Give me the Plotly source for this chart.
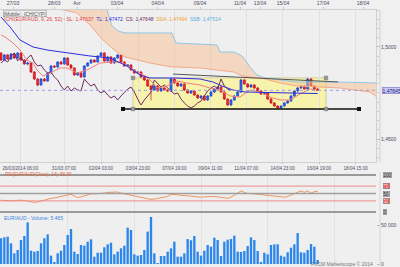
import plotly.graph_objects as go

# ---------------- data ----------------
bar_idx = list(range(96))
open_ = [1.49674, 1.49293, 1.49565, 1.49348, 1.49620, 1.49402, 1.49674, 1.49293, 1.49076, 1.49130,
         1.48641, 1.48261, 1.47935, 1.48261, 1.48152, 1.48587, 1.48967, 1.48913, 1.49185, 1.49076,
         1.49402, 1.49022, 1.48859, 1.48478, 1.48587, 1.48370, 1.48967, 1.49130, 1.49293, 1.49185,
         1.49511, 1.49674, 1.49239, 1.49457, 1.49130, 1.49402, 1.49565, 1.49185, 1.48967, 1.49022,
         1.48750, 1.48587, 1.48641, 1.48370, 1.48207, 1.47880, 1.47663, 1.47880, 1.47609, 1.47772,
         1.47663, 1.47609, 1.48261, 1.48043, 1.47880, 1.47989, 1.47663, 1.47500, 1.47609, 1.47391,
         1.47228, 1.47337, 1.47120, 1.47337, 1.47554, 1.47717, 1.47826, 1.47554, 1.47174, 1.46848,
         1.47120, 1.47337, 1.47554, 1.48207, 1.47989, 1.47826, 1.47935, 1.47772, 1.47609, 1.47446,
         1.47500, 1.47174, 1.46957, 1.46793, 1.46685, 1.46793, 1.46957, 1.47065, 1.47337, 1.47609,
         1.47772, 1.47880, 1.47717, 1.48261, 1.47880, 1.47717]
high = [1.4972, 1.4962, 1.4962, 1.4967, 1.4967, 1.4973, 1.4972, 1.4934, 1.4920, 1.4918,
        1.4869, 1.4831, 1.4831, 1.4831, 1.4864, 1.4902, 1.4902, 1.4924, 1.4924, 1.4945,
        1.4945, 1.4907, 1.4891, 1.4864, 1.4864, 1.4902, 1.4918, 1.4934, 1.4934, 1.4956,
        1.4972, 1.4972, 1.4951, 1.4951, 1.4945, 1.4962, 1.4962, 1.4924, 1.4907, 1.4907,
        1.4880, 1.4869, 1.4869, 1.4842, 1.4826, 1.4793, 1.4793, 1.4793, 1.4782, 1.4782,
        1.4771, 1.4831, 1.4831, 1.4809, 1.4804, 1.4804, 1.4771, 1.4766, 1.4766, 1.4744,
        1.4739, 1.4739, 1.4739, 1.4760, 1.4777, 1.4788, 1.4788, 1.4760, 1.4722, 1.4717,
        1.4739, 1.4760, 1.4826, 1.4826, 1.4804, 1.4799, 1.4799, 1.4782, 1.4766, 1.4755,
        1.4755, 1.4722, 1.4701, 1.4684, 1.4684, 1.4701, 1.4712, 1.4739, 1.4766, 1.4782,
        1.4793, 1.4793, 1.4831, 1.4831, 1.4793, 1.4777]
low = [1.4924, 1.4924, 1.4930, 1.4930, 1.4935, 1.4935, 1.4924, 1.4903, 1.4900, 1.4859,
       1.4821, 1.4785, 1.4789, 1.4810, 1.4810, 1.4854, 1.4886, 1.4886, 1.4903, 1.4903,
       1.4897, 1.4881, 1.4843, 1.4843, 1.4832, 1.4832, 1.4892, 1.4908, 1.4914, 1.4914,
       1.4946, 1.4919, 1.4919, 1.4908, 1.4908, 1.4935, 1.4914, 1.4892, 1.4892, 1.4870,
       1.4854, 1.4854, 1.4832, 1.4816, 1.4783, 1.4710, 1.4761, 1.4756, 1.4756, 1.4761,
       1.4756, 1.4756, 1.4799, 1.4783, 1.4783, 1.4761, 1.4745, 1.4745, 1.4734, 1.4718,
       1.4718, 1.4707, 1.4707, 1.4729, 1.4750, 1.4767, 1.4750, 1.4712, 1.4680, 1.4680,
       1.4707, 1.4729, 1.4750, 1.4794, 1.4778, 1.4778, 1.4772, 1.4756, 1.4740, 1.4740,
       1.4712, 1.4691, 1.4674, 1.4664, 1.4664, 1.4674, 1.4691, 1.4701, 1.4729, 1.4756,
       1.4772, 1.4767, 1.4767, 1.4783, 1.4767, 1.4760]
close = [1.49293, 1.49565, 1.49348, 1.49620, 1.49402, 1.49674, 1.49293, 1.49076, 1.49130, 1.48641,
         1.48261, 1.47935, 1.48261, 1.48152, 1.48587, 1.48967, 1.48913, 1.49185, 1.49076, 1.49402,
         1.49022, 1.48859, 1.48478, 1.48587, 1.48370, 1.48967, 1.49130, 1.49293, 1.49185, 1.49511,
         1.49674, 1.49239, 1.49457, 1.49130, 1.49402, 1.49565, 1.49185, 1.48967, 1.49022, 1.48750,
         1.48587, 1.48641, 1.48370, 1.48207, 1.47880, 1.47663, 1.47880, 1.47609, 1.47772, 1.47663,
         1.47609, 1.48261, 1.48043, 1.47880, 1.47989, 1.47663, 1.47500, 1.47609, 1.47391, 1.47228,
         1.47337, 1.47120, 1.47337, 1.47554, 1.47717, 1.47826, 1.47554, 1.47174, 1.46848, 1.47120,
         1.47337, 1.47554, 1.48207, 1.47989, 1.47826, 1.47935, 1.47772, 1.47609, 1.47446, 1.47500,
         1.47174, 1.46957, 1.46793, 1.46685, 1.46793, 1.46957, 1.47065, 1.47337, 1.47609, 1.47772,
         1.47880, 1.47717, 1.48261, 1.47880, 1.47717, 1.47645]

volume = [33000, 34200, 35000, 26500, 13700, 18000, 30800, 35900, 53400, 17000,
          15800, 16700, 26500, 33000, 38000, 10700, 1700, 13700, 17000, 24400,
          37200, 44900, 15800, 12800, 24400, 23500, 28600, 31600, 9400, 14500,
          14500, 21400, 25200, 27300, 12400, 15800, 20100, 23500, 46600, 43600,
          12400, 10700, 11500, 18000, 41500, 60300, 13700, 400, 10300, 10300,
          15800, 20100, 28600, 9400, 9400, 13700, 32000, 30400, 35900, 15800,
          10700, 17000, 24400, 22200, 33700, 30800, 10300, 28600, 31200, 32000,
          36300, 15800, 15400, 16700, 23000, 34200, 30800, 16700, 1700, 14500,
          12400, 24400, 25200, 25200, 10700, 9400, 15000, 20900, 25200, 39700,
          15000, 14500, 18000, 25600, 22200, 5100]

rsi = [32, 31, 30, 30, 31, 32, 32, 31, 29, 28,
       26, 27, 30, 32, 35, 37, 38, 40, 41, 43,
       45, 48, 43, 39, 41, 44, 47, 49, 49, 49,
       50, 51, 53, 54, 55, 54, 51, 49, 47, 46,
       44, 42, 41, 39, 36, 34, 35, 37, 38, 39,
       42, 48, 47, 46, 45, 43, 42, 41, 40, 40,
       40, 41, 42, 43, 42, 41, 40, 38, 37, 40,
       46, 50, 57, 53, 50, 50, 49, 49, 48, 47,
       46, 44, 42, 41, 40, 40, 42, 46, 50, 54,
       57, 53, 57, 51, 55, 56]

# Ichimoku lines (bar index, price)
sl_x = [0, 1.2, 3.6, 5.7, 7.8, 9.6, 10.8, 12.6, 14.7, 17.7, 19.8, 22.8, 25.8, 27.6, 29.7,
        33.6, 36.6, 38.7, 40.8, 43.8, 45.6, 46.8, 49.8, 52.8, 55.8, 59.7, 62.7, 65.7,
        68.7, 71.7, 74.7, 77.7, 80.7, 83.7, 86.7, 89.7, 92.7, 95]
sl_y = [1.50652, 1.50543, 1.50217, 1.49837, 1.49293, 1.49130, 1.48750, 1.48424, 1.48587,
        1.48859, 1.48859, 1.48587, 1.48750, 1.48913, 1.49130, 1.49185, 1.49130, 1.48859,
        1.48641, 1.48370, 1.48043, 1.47772, 1.47880, 1.48152, 1.48043, 1.47935, 1.47772,
        1.47663, 1.47337, 1.47283, 1.47663, 1.47554, 1.47283, 1.47120, 1.47120, 1.47446,
        1.47717, 1.47637]
tl_x = [0, 2.7, 5.7, 9.6, 13.8, 19.8, 26.7, 32.7, 37.8, 41.7, 44.7, 52.2, 59.7, 63.6,
        66.3, 69.6, 73.2, 86.7, 95]
tl_y = [1.51630, 1.51087, 1.50380, 1.50000, 1.49837, 1.49674, 1.49511, 1.49402, 1.48967,
        1.48478, 1.48315, 1.48315, 1.48261, 1.48098, 1.47880, 1.47663, 1.47554, 1.47500,
        1.47472]
cloud_x = [-0.3, 14.4, 18.9, 22.8, 26.7, 30.6, 33.3, 35.1, 37.2, 44.7, 51.3, 52.5, 59.7,
           64.8, 65.7, 69.9, 71.7, 72.6, 74.7, 76.8, 79.2, 83.7, 88.8, 101.7, 110.7, 112.8]
cloud_upper = [1.5350, 1.5300, 1.5300, 1.5300, 1.5300, 1.5270, 1.51141, 1.50870, 1.50761,
               1.50761, 1.50761, 1.50217, 1.50163, 1.50109, 1.49728, 1.49728, 1.49565,
               1.49457, 1.48913, 1.48478, 1.48315, 1.48207, 1.48098, 1.48098, 1.48043, 1.48043]
cloud_lower = [1.5280, 1.52120, 1.52011, 1.51848, 1.51196, 1.50380, 1.49946, 1.49674,
               1.49457, 1.49130, 1.48913, 1.48913, 1.48859, 1.48750, 1.48750, 1.48641,
               1.48478, 1.48424, 1.48370, 1.48315, 1.48261, 1.48043, 1.47880, 1.47772,
               1.47554, 1.47283]
chikou_shift = 26

bottom_tick_idx = [5.8, 18.9, 30, 41.1, 52, 62.8, 73.6, 84.5, 95.4, 106.4]
bottom_tick_text = ["26/03/2014 06:00", "31/03 07:00", "02/04 03:00", "03/04 23:00",
                    "07/04 19:00", "09/04 11:00", "11/04 07:00", "14/04 23:00",
                    "16/04 19:00", "18/04 15:00"]
top_tick_idx = [3.6, 16, 22.8, 34.8, 47, 59.7, 71.7, 77.7, 84.6, 96.6, 108.6]
top_tick_text = ["27/03", "28/03", "Avr", "03/04", "04/04", "09/04", "11/04", "13/04",
                 "15/04", "17/04", "18/04"]
event_idx = [3.6, 15.6, 16.5, 22.8, 34.8, 46.8, 47.4, 59.7, 71.7, 77.7, 84.6, 96.6, 108.6]

rect_idx = [39.6, 97.5]
rect_price = [1.4663, 1.4832]
support_idx = [36.6, 107.4]
support_price = [1.4663, 1.4663]
trend_idx = [51.6, 101.1]
trend_price = [1.4853, 1.4810]
last_price = 1.47645
rsi_levels = [100, 70, 50, 30, 0]
price_ticks = [1.45, 1.50]
volume_ticks = [0, 50000]

# ---------------- layout geometry ----------------
H = 267.0
def py(px):
    return 1 - px / H

main_range = [1.4375, 1.5201]
x_range = [-0.3, 112.5]
XD = [0, 0.94]
FONT = "Liberation Sans, Arial, sans-serif"

fig = go.Figure()

# Ichimoku cloud
fig.add_trace(go.Scatter(x=cloud_x, y=cloud_upper, mode="lines",
                         line=dict(color="#8fc8e6", width=1), hoverinfo="skip"))
fig.add_trace(go.Scatter(x=cloud_x, y=cloud_lower, mode="lines", fill="tonexty",
                         fillcolor="rgba(248,192,145,0.5)",
                         line=dict(color="#f4a88a", width=1), hoverinfo="skip"))
# Chikou
fig.add_trace(go.Scatter(x=[i - chikou_shift for i in bar_idx[chikou_shift:]],
                         y=close[chikou_shift:], mode="lines",
                         line=dict(color="#6e2a62", width=1)))
# SL / TL
fig.add_trace(go.Scatter(x=sl_x, y=sl_y, mode="lines", line=dict(color="#f2807a", width=1)))
fig.add_trace(go.Scatter(x=tl_x, y=tl_y, mode="lines", line=dict(color="#2a2ee0", width=1)))
# candles
fig.add_trace(go.Candlestick(x=bar_idx, open=open_, high=high, low=low, close=close,
                             increasing=dict(line=dict(color="#1e46cc", width=0.7), fillcolor="#2f64ee"),
                             decreasing=dict(line=dict(color="#c8141c", width=0.7), fillcolor="#ee2a30"),
                             whiskerwidth=0))
# trend line and support line
fig.add_trace(go.Scatter(x=trend_idx, y=trend_price, mode="lines",
                         line=dict(color="#555555", width=1)))
fig.add_trace(go.Scatter(x=support_idx, y=support_price, mode="lines+markers",
                         line=dict(color="#111111", width=1.3),
                         marker=dict(symbol="square", size=4, color="#111111")))
# rectangle handles
fig.add_trace(go.Scatter(x=[rect_idx[0], rect_idx[1], rect_idx[0], rect_idx[1]],
                         y=[rect_price[0], rect_price[0], rect_price[1], rect_price[1]],
                         mode="markers",
                         marker=dict(symbol="square", size=3.5, color="#9a9a9a",
                                     line=dict(color="#666", width=0.5))))
# event markers on the top ruler
fig.add_trace(go.Scatter(x=event_idx, y=[main_range[1] + 0.0014] * len(event_idx),
                         mode="markers", xaxis="x2", yaxis="y", cliponaxis=False,
                         marker=dict(symbol="triangle-down", size=5, color="#f5a31a")))
# RSI
fig.add_trace(go.Scatter(x=bar_idx, y=rsi, mode="lines", xaxis="x3", yaxis="y3",
                         line=dict(color="#f0955f", width=1)))
# Volume
fig.add_trace(go.Bar(x=bar_idx, y=volume, xaxis="x4", yaxis="y4",
                     marker=dict(color="#2a86ec", line=dict(width=0)), width=0.7))

shapes = [
    dict(type="rect", xref="x", yref="y", x0=rect_idx[0], x1=rect_idx[1],
         y0=rect_price[0], y1=rect_price[1], fillcolor="#f8f3aa",
         line=dict(color="#c9c49a", width=0.8), layer="below"),
    dict(type="line", xref="paper", yref="y", x0=0, x1=XD[1], y0=last_price, y1=last_price,
         line=dict(color="#9c9ce8", width=1, dash="dot")),
    dict(type="line", xref="paper", yref="paper", x0=0.95, x1=0.95, y0=py(162), y1=py(10),
         line=dict(color="#cfcfcf", width=1)),
    dict(type="line", xref="paper", yref="paper", x0=0.95, x1=0.95, y0=py(266), y1=py(172),
         line=dict(color="#d6d6d6", width=1)),
]
rsi_colors = {100: ("#9a9a9a", 2), 70: ("#f08a8a", 1), 50: ("#a0a0a0", 1.5),
              30: ("#f08a8a", 1), 0: ("#9a9a9a", 2)}
for lv in rsi_levels:
    c, w = rsi_colors[lv]
    shapes.append(dict(type="line", xref="paper", yref="y3", x0=0, x1=XD[1], y0=lv, y1=lv,
                       line=dict(color=c, width=w)))

ann = []
def note(text, x, y, color, size=5, xanchor="left", yref="paper", bg=None, border=None):
    d = dict(text=text, x=x, y=y, xref="paper", yref=yref, xanchor=xanchor,
             yanchor="middle", showarrow=False, font=dict(size=size, color=color, family=FONT))
    if bg:
        d["bgcolor"] = bg
    if border:
        d["bordercolor"] = border
        d["borderwidth"] = 0.6
        d["borderpad"] = 0
    ann.append(d)

note("[Mobile : ICHICYP]", 0.008, py(13), "#555555", border="#aaaaaa")
note('<span style="color:#e04040">ICHI(EUR/AUD, 9, 26, 52) - SL: 1,47637</span>  '
     '<span style="color:#2a2ee0">TL: 1,47472</span>  '
     '<span style="color:#6e2a62">CS: 1,47648</span>  '
     '<span style="color:#f0a030">SSA: 1,47494</span>  '
     '<span style="color:#5aaee0">SSB: 1,47514</span>', 0.005, py(18.5), "#e04040")
note("RSI(EUR/AUD(Close), 14): 56,00", 0.008, py(174.5), "#e0663a", size=4.5)
note("EUR/AUD - Volume: 5 465", 0.005, py(217.5), "#3a86e0")
note("FXCM Marketscope © 2014", 0.938, py(264), "#777777", xanchor="right")
note("1,47645", 0.955, last_price, "#1a1a80", yref="y", bg="#c9c9f2", border="#7070c0")
lvl_bg = {100: "#bdbdbd", 70: "#e23b3b", 50: "#bdbdbd", 30: "#e23b3b", 0: "#bdbdbd"}
lvl_fg = {100: "#222222", 70: "#ffffff", 50: "#222222", 30: "#ffffff", 0: "#222222"}
for lv in rsi_levels:
    note(str(lv), 0.957, lv, lvl_fg[lv], size=4.5, yref="y3", bg=lvl_bg[lv], border="#888888")

tickfont = dict(size=5, color="#4b4b66", family=FONT)
fig.update_layout(
    width=400, height=267, margin=dict(l=0, r=0, t=0, b=0),
    paper_bgcolor="#f0f0f0", plot_bgcolor="#efefef",
    showlegend=False, separators=", ", bargap=0.3, boxgap=0.15,
    shapes=shapes, annotations=ann, hovermode=False,
    xaxis=dict(domain=XD, range=x_range, anchor="y", tickvals=bottom_tick_idx,
               ticktext=bottom_tick_text, tickfont=dict(size=4.6, color="#4b4b66", family=FONT),
               showgrid=True, gridcolor="#e1e1e1", zeroline=False, ticks="outside", ticklen=1,
               tickcolor="#bbbbbb", showline=True, linecolor="#d0d0d0", mirror=True,
               rangeslider=dict(visible=False), automargin=False,
               ticklabeloverflow="allow"),
    xaxis2=dict(overlaying="x", side="top", matches="x", anchor="y", tickvals=top_tick_idx,
                ticktext=top_tick_text, tickfont=tickfont, showgrid=False, zeroline=False,
                ticks="outside", ticklen=2, tickcolor="#cccccc", automargin=False),
    xaxis3=dict(domain=XD, matches="x", anchor="y3", showticklabels=False, showgrid=True,
                gridcolor="#e1e1e1", zeroline=False, automargin=False),
    xaxis4=dict(domain=XD, matches="x", anchor="y4", showticklabels=False, showgrid=True,
                gridcolor="#e1e1e1", zeroline=False, automargin=False),
    yaxis=dict(domain=[py(162), py(10)], range=main_range, anchor="x", side="right",
               tickvals=price_ticks, tickformat=".4f", tickfont=tickfont, showgrid=False,
               zeroline=False, ticks="outside", ticklen=3, tickcolor="#bbbbbb",
               minor=dict(dtick=0.005, ticks="outside", ticklen=2, tickcolor="#cccccc"),
               showline=True, linecolor="#d0d0d0", mirror=True, automargin=False),
    yaxis3=dict(domain=[py(214), py(172)], range=[-5.4, 108.1], anchor="x3",
                showticklabels=False, showgrid=False, zeroline=False, automargin=False),
    yaxis4=dict(domain=[py(266), py(215)], range=[-2564, 62820], anchor="x4", side="right",
                tickvals=volume_ticks, tickformat=",.0f", tickfont=tickfont, showgrid=False,
                zeroline=False, ticks="outside", ticklen=3, tickcolor="#bbbbbb",
                automargin=False),
)

fig.write_html("out.html", config={"displayModeBar": False})
